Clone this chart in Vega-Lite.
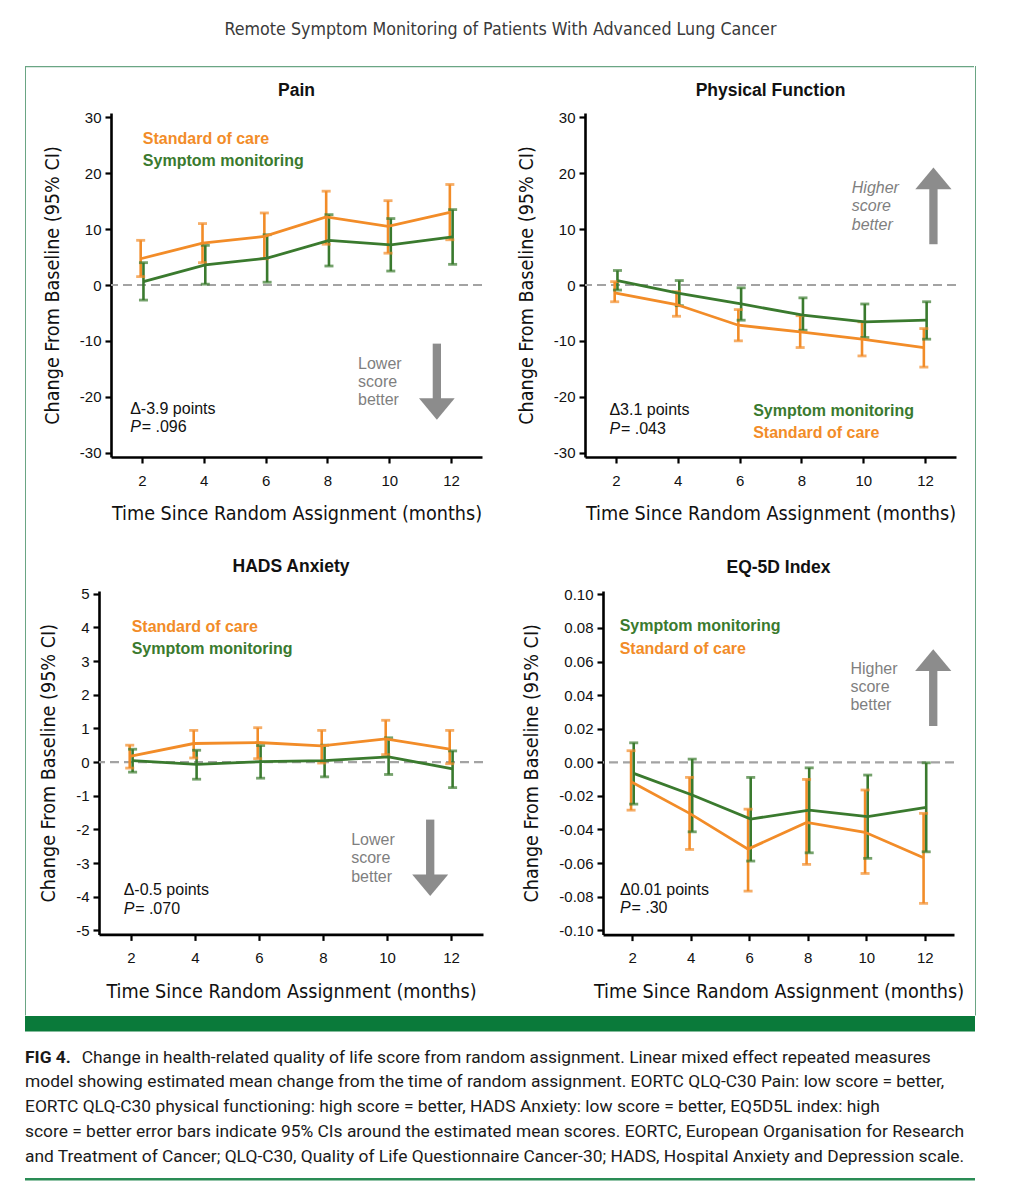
{
  "$schema": "https://vega.github.io/schema/vega-lite/v6.json",
  "background": "white",
  "padding": {"left": 25, "right": 25, "top": 20, "bottom": 10},
  "title": {"text": "Remote Symptom Monitoring of Patients With Advanced Lung Cancer", "font": "Liberation Sans Narrow, DejaVu Sans Condensed, Roboto, sans-serif", "fontSize": 17.7, "fontWeight": "normal", "color": "#3a3a3a", "anchor": "middle", "frame": "bounds", "offset": 27.5},
  "config": {
    "view": {"stroke": null},
    "axis": {"domainColor": "#000", "domainWidth": 2.6, "tickColor": "#000", "tickWidth": 2.2, "tickSize": 6, "tickCount": 20, "labelColor": "#111", "labelFont": "Liberation Sans", "labelFontSize": 15, "labelOverlap": false, "titleFont": "Liberation Sans Narrow, DejaVu Sans Condensed, Roboto, sans-serif", "titleFontWeight": "normal", "titleColor": "#111", "grid": false, "labelPadding": 4},
    "axisX": {"labelPadding": 10, "titlePadding": 16.6, "titleFontSize": 19.6},
    "axisY": {"titlePadding": 17, "titleFontSize": 19.6},
    "title": {"font": "Liberation Sans", "fontSize": 17.5, "fontWeight": "bold", "color": "#111", "offset": 11, "frame": "group", "anchor": "middle"},
    "text": {"font": "Liberation Sans"}
  },
  "datasets": {
    "pain": [
      {"arm": "Standard of care", "t": 1.96, "mean": 4.7, "lo": 1.5, "hi": 8.0},
      {"arm": "Standard of care", "t": 3.96, "mean": 7.5, "lo": 4.0, "hi": 11.0},
      {"arm": "Standard of care", "t": 5.96, "mean": 8.7, "lo": 4.7, "hi": 12.9},
      {"arm": "Standard of care", "t": 7.96, "mean": 12.2, "lo": 7.3, "hi": 16.8},
      {"arm": "Standard of care", "t": 9.96, "mean": 10.5, "lo": 5.7, "hi": 15.1},
      {"arm": "Standard of care", "t": 11.96, "mean": 13.0, "lo": 8.1, "hi": 18.0},
      {"arm": "Symptom monitoring", "t": 2.05, "mean": 0.6, "lo": -2.7, "hi": 4.0},
      {"arm": "Symptom monitoring", "t": 4.05, "mean": 3.6, "lo": 0.15, "hi": 7.1},
      {"arm": "Symptom monitoring", "t": 6.05, "mean": 4.8, "lo": 0.5, "hi": 9.0},
      {"arm": "Symptom monitoring", "t": 8.05, "mean": 8.0, "lo": 3.4, "hi": 12.6},
      {"arm": "Symptom monitoring", "t": 10.05, "mean": 7.2, "lo": 2.5, "hi": 11.9},
      {"arm": "Symptom monitoring", "t": 12.05, "mean": 8.6, "lo": 3.7, "hi": 13.5}
    ],
    "phys": [
      {"arm": "Standard of care", "t": 1.96, "mean": -1.4, "lo": -3.0, "hi": 0.6},
      {"arm": "Standard of care", "t": 3.96, "mean": -3.5, "lo": -5.6, "hi": -1.2},
      {"arm": "Standard of care", "t": 5.96, "mean": -7.2, "lo": -10.0, "hi": -4.4},
      {"arm": "Standard of care", "t": 7.96, "mean": -8.4, "lo": -11.2, "hi": -5.5},
      {"arm": "Standard of care", "t": 9.96, "mean": -9.7, "lo": -12.7, "hi": -6.6},
      {"arm": "Standard of care", "t": 11.96, "mean": -11.2, "lo": -14.7, "hi": -7.8},
      {"arm": "Symptom monitoring", "t": 2.05, "mean": 0.8, "lo": -0.9, "hi": 2.6},
      {"arm": "Symptom monitoring", "t": 4.05, "mean": -1.5, "lo": -3.7, "hi": 0.8},
      {"arm": "Symptom monitoring", "t": 6.05, "mean": -3.4, "lo": -6.3, "hi": -0.5},
      {"arm": "Symptom monitoring", "t": 8.05, "mean": -5.4, "lo": -8.1, "hi": -2.3},
      {"arm": "Symptom monitoring", "t": 10.05, "mean": -6.6, "lo": -9.4, "hi": -3.4},
      {"arm": "Symptom monitoring", "t": 12.05, "mean": -6.3, "lo": -9.7, "hi": -3.0}
    ],
    "hads": [
      {"arm": "Standard of care", "t": 1.96, "mean": 0.17, "lo": -0.18, "hi": 0.5},
      {"arm": "Standard of care", "t": 3.96, "mean": 0.55, "lo": 0.12, "hi": 0.94},
      {"arm": "Standard of care", "t": 5.96, "mean": 0.58, "lo": 0.1, "hi": 1.02},
      {"arm": "Standard of care", "t": 7.96, "mean": 0.48, "lo": -0.03, "hi": 0.94},
      {"arm": "Standard of care", "t": 9.96, "mean": 0.69, "lo": 0.22, "hi": 1.24},
      {"arm": "Standard of care", "t": 11.96, "mean": 0.38, "lo": -0.05, "hi": 0.94},
      {"arm": "Symptom monitoring", "t": 2.05, "mean": 0.04, "lo": -0.3, "hi": 0.38},
      {"arm": "Symptom monitoring", "t": 4.05, "mean": -0.07, "lo": -0.51, "hi": 0.35},
      {"arm": "Symptom monitoring", "t": 6.05, "mean": 0.01, "lo": -0.48, "hi": 0.49},
      {"arm": "Symptom monitoring", "t": 8.05, "mean": 0.04, "lo": -0.44, "hi": 0.5},
      {"arm": "Symptom monitoring", "t": 10.05, "mean": 0.15, "lo": -0.37, "hi": 0.72},
      {"arm": "Symptom monitoring", "t": 12.05, "mean": -0.2, "lo": -0.76, "hi": 0.33}
    ],
    "eq5d": [
      {"arm": "Standard of care", "t": 1.96, "mean": -0.0116, "lo": -0.0285, "hi": 0.0069},
      {"arm": "Standard of care", "t": 3.96, "mean": -0.0304, "lo": -0.0519, "hi": -0.009},
      {"arm": "Standard of care", "t": 5.96, "mean": -0.0517, "lo": -0.0767, "hi": -0.0279},
      {"arm": "Standard of care", "t": 7.96, "mean": -0.0358, "lo": -0.0608, "hi": -0.0102},
      {"arm": "Standard of care", "t": 9.96, "mean": -0.0417, "lo": -0.0662, "hi": -0.0165},
      {"arm": "Standard of care", "t": 11.96, "mean": -0.0568, "lo": -0.084, "hi": -0.0304},
      {"arm": "Symptom monitoring", "t": 2.05, "mean": -0.0066, "lo": -0.0249, "hi": 0.0116},
      {"arm": "Symptom monitoring", "t": 4.05, "mean": -0.0195, "lo": -0.0414, "hi": 0.0019},
      {"arm": "Symptom monitoring", "t": 6.05, "mean": -0.0338, "lo": -0.0588, "hi": -0.009},
      {"arm": "Symptom monitoring", "t": 8.05, "mean": -0.0285, "lo": -0.0539, "hi": -0.0033},
      {"arm": "Symptom monitoring", "t": 10.05, "mean": -0.0324, "lo": -0.0572, "hi": -0.0076},
      {"arm": "Symptom monitoring", "t": 12.05, "mean": -0.0269, "lo": -0.0533, "hi": -0.0003}
    ],
    "caption": [
      {"line": 2, "text": "model showing estimated mean change from the time of random assignment. EORTC QLQ-C30 Pain: low score = better,"},
      {"line": 3, "text": "EORTC QLQ-C30 physical functioning: high score = better, HADS Anxiety: low score = better, EQ5D5L index: high"},
      {"line": 4, "text": "score = better error bars indicate 95% CIs around the estimated mean scores. EORTC, European Organisation for Research"},
      {"line": 5, "text": "and Treatment of Cancer; QLQ-C30, Quality of Life Questionnaire Cancer-30; HADS, Hospital Anxiety and Depression scale."}
    ]
  },
  "vconcat": [
    {
      "hconcat": [
        {"width": 1, "height": 949.5, "data": {"values": []}, "mark": {"type": "text"}, "encoding": {}, "view": {"fill": "#6aa584", "stroke": null}},
        {
          "vconcat": [
            {"width": 948, "height": 1.2, "data": {"values": []}, "mark": {"type": "text"}, "encoding": {}, "view": {"fill": "#6aa584", "stroke": null}},
            {
              "vconcat": [
                {
                  "hconcat": [
                    {"width": 84.8, "height": 1, "data": {"values": []}, "mark": {"type": "text"}, "encoding": {}},
                    {
                      "title": "Pain",
                      "width": 371, "height": 344,
                      "data": {"name": "pain"},
                      "layer": [
                        {"data": {"values": [{}]}, "mark": {"type": "rule", "color": "#a3a3a3", "strokeWidth": 2.2, "strokeDash": [9, 5]}, "encoding": {"y": {"datum": 0, "type": "quantitative"}}},
                        {"mark": {"type": "rule", "strokeWidth": 2.6},
                         "encoding": {
                           "x": {"field": "t", "type": "quantitative", "scale": {"domain": [1, 13], "nice": false, "zero": false}, "axis": {"values": [2, 4, 6, 8, 10, 12], "format": "d", "title": "Time Since Random Assignment (months)"}},
                           "y": {"field": "lo", "type": "quantitative", "scale": {"domain": [-30.8, 30.8], "nice": false, "zero": false}, "axis": {"values": [-30, -20, -10, 0, 10, 20, 30], "tickCount": 20, "format": "d", "labelExpr": "replace(datum.label, '\u2212', '-')", "title": "Change From Baseline (95% CI)"}},
                           "y2": {"field": "hi"},
                           "color": {"field": "arm", "type": "nominal", "scale": {"domain": ["Standard of care", "Symptom monitoring"], "range": ["#F28C28", "#3A7A2E"]}, "legend": null}}},
                        {"mark": {"type": "tick", "orient": "horizontal", "size": 9, "thickness": 2.8}, "encoding": {"x": {"field": "t", "type": "quantitative"}, "y": {"field": "lo", "type": "quantitative"}, "color": {"field": "arm", "type": "nominal"}}},
                        {"mark": {"type": "tick", "orient": "horizontal", "size": 9, "thickness": 2.8}, "encoding": {"x": {"field": "t", "type": "quantitative"}, "y": {"field": "hi", "type": "quantitative"}, "color": {"field": "arm", "type": "nominal"}}},
                        {"mark": {"type": "line", "strokeWidth": 2.8}, "encoding": {"x": {"field": "t", "type": "quantitative"}, "y": {"field": "mean", "type": "quantitative"}, "color": {"field": "arm", "type": "nominal"}}},
                        {"data": {"values": [{}]}, "mark": {"type": "text", "text": "Standard of care", "align": "left", "baseline": "middle", "fontSize": 16, "fontWeight": "bold", "color": "#F28C28"}, "encoding": {"x": {"datum": 2.03, "type": "quantitative"}, "y": {"datum": 26.2, "type": "quantitative"}}},
                        {"data": {"values": [{}]}, "mark": {"type": "text", "text": "Symptom monitoring", "align": "left", "baseline": "middle", "fontSize": 16, "fontWeight": "bold", "color": "#3A7A2E"}, "encoding": {"x": {"datum": 2.03, "type": "quantitative"}, "y": {"datum": 22.2, "type": "quantitative"}}},
                        {"data": {"values": [{}]}, "mark": {"type": "text", "text": "\u0394-3.9 points", "align": "left", "baseline": "alphabetic", "fontSize": 16, "color": "#111"}, "encoding": {"x": {"datum": 1.62, "type": "quantitative"}, "y": {"datum": -23.07, "type": "quantitative"}}},
                        {"data": {"values": [{}]}, "mark": {"type": "text", "text": "P", "align": "left", "baseline": "alphabetic", "fontSize": 16, "fontStyle": "italic", "color": "#111"}, "encoding": {"x": {"datum": 1.62, "type": "quantitative"}, "y": {"datum": -26.37, "type": "quantitative"}}},
                        {"data": {"values": [{}]}, "mark": {"type": "text", "text": "= .096", "align": "left", "baseline": "alphabetic", "fontSize": 16, "dx": 11.5, "color": "#111"}, "encoding": {"x": {"datum": 1.62, "type": "quantitative"}, "y": {"datum": -26.37, "type": "quantitative"}}},
                        {"data": {"values": [{}]}, "mark": {"type": "text", "text": ["Lower", "score", "better"], "lineHeight": 18.3, "align": "left", "baseline": "alphabetic", "fontSize": 16, "color": "#7f7f7f"}, "encoding": {"x": {"datum": 8.99, "type": "quantitative"}, "y": {"datum": -15.0, "type": "quantitative"}}},
                        {"data": {"values": [{}]}, "mark": {"type": "rule", "color": "#8c8c8c", "strokeWidth": 8.3, "strokeCap": "butt"}, "encoding": {"x": {"datum": 11.54, "type": "quantitative"}, "y": {"datum": -10.5, "type": "quantitative"}, "y2": {"datum": -20.6}}},
                        {"data": {"values": [{}]}, "mark": {"type": "point", "shape": "M-1,-0.6L1,-0.6L0,0.6Z", "size": 1274, "filled": true, "opacity": 1, "color": "#8c8c8c", "strokeWidth": 0}, "encoding": {"x": {"datum": 11.54, "type": "quantitative"}, "y": {"datum": -22.2, "type": "quantitative"}}}
                      ]
                    },
                    {"width": 102.3, "height": 1, "data": {"values": []}, "mark": {"type": "text"}, "encoding": {}},
                    {
                      "title": "Physical Function",
                      "width": 371, "height": 344,
                      "data": {"name": "phys"},
                      "layer": [
                        {"data": {"values": [{}]}, "mark": {"type": "rule", "color": "#a3a3a3", "strokeWidth": 2.2, "strokeDash": [9, 5]}, "encoding": {"y": {"datum": 0, "type": "quantitative"}}},
                        {"mark": {"type": "rule", "strokeWidth": 2.6},
                         "encoding": {
                           "x": {"field": "t", "type": "quantitative", "scale": {"domain": [1, 13], "nice": false, "zero": false}, "axis": {"values": [2, 4, 6, 8, 10, 12], "format": "d", "title": "Time Since Random Assignment (months)"}},
                           "y": {"field": "lo", "type": "quantitative", "scale": {"domain": [-30.8, 30.8], "nice": false, "zero": false}, "axis": {"values": [-30, -20, -10, 0, 10, 20, 30], "tickCount": 20, "format": "d", "labelExpr": "replace(datum.label, '\u2212', '-')", "title": "Change From Baseline (95% CI)"}},
                           "y2": {"field": "hi"},
                           "color": {"field": "arm", "type": "nominal", "scale": {"domain": ["Standard of care", "Symptom monitoring"], "range": ["#F28C28", "#3A7A2E"]}, "legend": null}}},
                        {"mark": {"type": "tick", "orient": "horizontal", "size": 9, "thickness": 2.8}, "encoding": {"x": {"field": "t", "type": "quantitative"}, "y": {"field": "lo", "type": "quantitative"}, "color": {"field": "arm", "type": "nominal"}}},
                        {"mark": {"type": "tick", "orient": "horizontal", "size": 9, "thickness": 2.8}, "encoding": {"x": {"field": "t", "type": "quantitative"}, "y": {"field": "hi", "type": "quantitative"}, "color": {"field": "arm", "type": "nominal"}}},
                        {"mark": {"type": "line", "strokeWidth": 2.8}, "encoding": {"x": {"field": "t", "type": "quantitative"}, "y": {"field": "mean", "type": "quantitative"}, "color": {"field": "arm", "type": "nominal"}}},
                        {"data": {"values": [{}]}, "mark": {"type": "text", "text": "Symptom monitoring", "align": "left", "baseline": "middle", "fontSize": 16, "fontWeight": "bold", "color": "#3A7A2E"}, "encoding": {"x": {"datum": 6.44, "type": "quantitative"}, "y": {"datum": -22.5, "type": "quantitative"}}},
                        {"data": {"values": [{}]}, "mark": {"type": "text", "text": "Standard of care", "align": "left", "baseline": "middle", "fontSize": 16, "fontWeight": "bold", "color": "#F28C28"}, "encoding": {"x": {"datum": 6.44, "type": "quantitative"}, "y": {"datum": -26.5, "type": "quantitative"}}},
                        {"data": {"values": [{}]}, "mark": {"type": "text", "text": "\u03943.1 points", "align": "left", "baseline": "alphabetic", "fontSize": 16, "color": "#111"}, "encoding": {"x": {"datum": 1.79, "type": "quantitative"}, "y": {"datum": -23.3, "type": "quantitative"}}},
                        {"data": {"values": [{}]}, "mark": {"type": "text", "text": "P", "align": "left", "baseline": "alphabetic", "fontSize": 16, "fontStyle": "italic", "color": "#111"}, "encoding": {"x": {"datum": 1.79, "type": "quantitative"}, "y": {"datum": -26.6, "type": "quantitative"}}},
                        {"data": {"values": [{}]}, "mark": {"type": "text", "text": "= .043", "align": "left", "baseline": "alphabetic", "fontSize": 16, "dx": 11.5, "color": "#111"}, "encoding": {"x": {"datum": 1.79, "type": "quantitative"}, "y": {"datum": -26.6, "type": "quantitative"}}},
                        {"data": {"values": [{}]}, "mark": {"type": "text", "text": ["Higher", "score", "better"], "lineHeight": 18.5, "align": "left", "baseline": "alphabetic", "fontSize": 16, "fontStyle": "italic", "color": "#7f7f7f"}, "encoding": {"x": {"datum": 9.63, "type": "quantitative"}, "y": {"datum": 16.5, "type": "quantitative"}}},
                        {"data": {"values": [{}]}, "mark": {"type": "rule", "color": "#8c8c8c", "strokeWidth": 8.3, "strokeCap": "butt"}, "encoding": {"x": {"datum": 12.27, "type": "quantitative"}, "y": {"datum": 7.3, "type": "quantitative"}, "y2": {"datum": 17.6}}},
                        {"data": {"values": [{}]}, "mark": {"type": "point", "shape": "M-1,0.6L1,0.6L0,-0.6Z", "size": 1310, "filled": true, "opacity": 1, "color": "#8c8c8c", "strokeWidth": 0}, "encoding": {"x": {"datum": 12.27, "type": "quantitative"}, "y": {"datum": 19.1, "type": "quantitative"}}}
                      ]
                    },
                    {"width": 18.9, "height": 1, "data": {"values": []}, "mark": {"type": "text"}, "encoding": {}}
                  ],
                  "spacing": 0,
                  "bounds": "flush"
                },
                {
                  "hconcat": [
                    {"width": 73, "height": 1, "data": {"values": []}, "mark": {"type": "text"}, "encoding": {}},
                    {
                      "title": "HADS Anxiety",
                      "width": 384, "height": 343.4,
                      "data": {"name": "hads"},
                      "layer": [
                        {"data": {"values": [{}]}, "mark": {"type": "rule", "color": "#a3a3a3", "strokeWidth": 2.2, "strokeDash": [9, 5]}, "encoding": {"y": {"datum": 0, "type": "quantitative"}}},
                        {"mark": {"type": "rule", "strokeWidth": 2.6},
                         "encoding": {
                           "x": {"field": "t", "type": "quantitative", "scale": {"domain": [1, 13], "nice": false, "zero": false}, "axis": {"values": [2, 4, 6, 8, 10, 12], "format": "d", "title": "Time Since Random Assignment (months)"}},
                           "y": {"field": "lo", "type": "quantitative", "scale": {"domain": [-5.12, 5.08], "nice": false, "zero": false}, "axis": {"values": [-5, -4, -3, -2, -1, 0, 1, 2, 3, 4, 5], "tickCount": 20, "format": "d", "labelExpr": "replace(datum.label, '\u2212', '-')", "title": "Change From Baseline (95% CI)"}},
                           "y2": {"field": "hi"},
                           "color": {"field": "arm", "type": "nominal", "scale": {"domain": ["Standard of care", "Symptom monitoring"], "range": ["#F28C28", "#3A7A2E"]}, "legend": null}}},
                        {"mark": {"type": "tick", "orient": "horizontal", "size": 9, "thickness": 2.8}, "encoding": {"x": {"field": "t", "type": "quantitative"}, "y": {"field": "lo", "type": "quantitative"}, "color": {"field": "arm", "type": "nominal"}}},
                        {"mark": {"type": "tick", "orient": "horizontal", "size": 9, "thickness": 2.8}, "encoding": {"x": {"field": "t", "type": "quantitative"}, "y": {"field": "hi", "type": "quantitative"}, "color": {"field": "arm", "type": "nominal"}}},
                        {"mark": {"type": "line", "strokeWidth": 2.8}, "encoding": {"x": {"field": "t", "type": "quantitative"}, "y": {"field": "mean", "type": "quantitative"}, "color": {"field": "arm", "type": "nominal"}}},
                        {"data": {"values": [{}]}, "mark": {"type": "text", "text": "Standard of care", "align": "left", "baseline": "middle", "fontSize": 16, "fontWeight": "bold", "color": "#F28C28"}, "encoding": {"x": {"datum": 2.02, "type": "quantitative"}, "y": {"datum": 4.01, "type": "quantitative"}}},
                        {"data": {"values": [{}]}, "mark": {"type": "text", "text": "Symptom monitoring", "align": "left", "baseline": "middle", "fontSize": 16, "fontWeight": "bold", "color": "#3A7A2E"}, "encoding": {"x": {"datum": 2.02, "type": "quantitative"}, "y": {"datum": 3.36, "type": "quantitative"}}},
                        {"data": {"values": [{}]}, "mark": {"type": "text", "text": "\u0394-0.5 points", "align": "left", "baseline": "alphabetic", "fontSize": 16, "color": "#111"}, "encoding": {"x": {"datum": 1.77, "type": "quantitative"}, "y": {"datum": -3.96, "type": "quantitative"}}},
                        {"data": {"values": [{}]}, "mark": {"type": "text", "text": "P", "align": "left", "baseline": "alphabetic", "fontSize": 16, "fontStyle": "italic", "color": "#111"}, "encoding": {"x": {"datum": 1.77, "type": "quantitative"}, "y": {"datum": -4.5, "type": "quantitative"}}},
                        {"data": {"values": [{}]}, "mark": {"type": "text", "text": "= .070", "align": "left", "baseline": "alphabetic", "fontSize": 16, "dx": 11.5, "color": "#111"}, "encoding": {"x": {"datum": 1.77, "type": "quantitative"}, "y": {"datum": -4.5, "type": "quantitative"}}},
                        {"data": {"values": [{}]}, "mark": {"type": "text", "text": ["Lower", "score", "better"], "lineHeight": 18.3, "align": "left", "baseline": "alphabetic", "fontSize": 16, "color": "#7f7f7f"}, "encoding": {"x": {"datum": 8.88, "type": "quantitative"}, "y": {"datum": -2.47, "type": "quantitative"}}},
                        {"data": {"values": [{}]}, "mark": {"type": "rule", "color": "#8c8c8c", "strokeWidth": 8.3, "strokeCap": "butt"}, "encoding": {"x": {"datum": 11.35, "type": "quantitative"}, "y": {"datum": -1.71, "type": "quantitative"}, "y2": {"datum": -3.4}}},
                        {"data": {"values": [{}]}, "mark": {"type": "point", "shape": "M-1,-0.6L1,-0.6L0,0.6Z", "size": 1296, "filled": true, "opacity": 1, "color": "#8c8c8c", "strokeWidth": 0}, "encoding": {"x": {"datum": 11.35, "type": "quantitative"}, "y": {"datum": -3.66, "type": "quantitative"}}}
                      ]
                    },
                    {"width": 119.4, "height": 1, "data": {"values": []}, "mark": {"type": "text"}, "encoding": {}},
                    {
                      "title": "EQ-5D Index",
                      "width": 351, "height": 343.6,
                      "data": {"name": "eq5d"},
                      "layer": [
                        {"data": {"values": [{}]}, "mark": {"type": "rule", "color": "#a3a3a3", "strokeWidth": 2.2, "strokeDash": [9, 5]}, "encoding": {"y": {"datum": 0, "type": "quantitative"}}},
                        {"mark": {"type": "rule", "strokeWidth": 2.6},
                         "encoding": {
                           "x": {"field": "t", "type": "quantitative", "scale": {"domain": [1, 13], "nice": false, "zero": false}, "axis": {"values": [2, 4, 6, 8, 10, 12], "format": "d", "title": "Time Since Random Assignment (months)"}},
                           "y": {"field": "lo", "type": "quantitative", "scale": {"domain": [-0.1026, 0.102], "nice": false, "zero": false}, "axis": {"values": [-0.1, -0.08, -0.06, -0.04, -0.02, 0, 0.02, 0.04, 0.06, 0.08, 0.1], "tickCount": 20, "format": ".2f", "labelExpr": "replace(datum.label, '\u2212', '-')", "title": "Change From Baseline (95% CI)"}},
                           "y2": {"field": "hi"},
                           "color": {"field": "arm", "type": "nominal", "scale": {"domain": ["Standard of care", "Symptom monitoring"], "range": ["#F28C28", "#3A7A2E"]}, "legend": null}}},
                        {"mark": {"type": "tick", "orient": "horizontal", "size": 9, "thickness": 2.8}, "encoding": {"x": {"field": "t", "type": "quantitative"}, "y": {"field": "lo", "type": "quantitative"}, "color": {"field": "arm", "type": "nominal"}}},
                        {"mark": {"type": "tick", "orient": "horizontal", "size": 9, "thickness": 2.8}, "encoding": {"x": {"field": "t", "type": "quantitative"}, "y": {"field": "hi", "type": "quantitative"}, "color": {"field": "arm", "type": "nominal"}}},
                        {"mark": {"type": "line", "strokeWidth": 2.8}, "encoding": {"x": {"field": "t", "type": "quantitative"}, "y": {"field": "mean", "type": "quantitative"}, "color": {"field": "arm", "type": "nominal"}}},
                        {"data": {"values": [{}]}, "mark": {"type": "text", "text": "Symptom monitoring", "align": "left", "baseline": "middle", "fontSize": 16, "fontWeight": "bold", "color": "#3A7A2E"}, "encoding": {"x": {"datum": 1.57, "type": "quantitative"}, "y": {"datum": 0.081, "type": "quantitative"}}},
                        {"data": {"values": [{}]}, "mark": {"type": "text", "text": "Standard of care", "align": "left", "baseline": "middle", "fontSize": 16, "fontWeight": "bold", "color": "#F28C28"}, "encoding": {"x": {"datum": 1.57, "type": "quantitative"}, "y": {"datum": 0.0677, "type": "quantitative"}}},
                        {"data": {"values": [{}]}, "mark": {"type": "text", "text": "\u03940.01 points", "align": "left", "baseline": "alphabetic", "fontSize": 16, "color": "#111"}, "encoding": {"x": {"datum": 1.58, "type": "quantitative"}, "y": {"datum": -0.0792, "type": "quantitative"}}},
                        {"data": {"values": [{}]}, "mark": {"type": "text", "text": "P", "align": "left", "baseline": "alphabetic", "fontSize": 16, "fontStyle": "italic", "color": "#111"}, "encoding": {"x": {"datum": 1.58, "type": "quantitative"}, "y": {"datum": -0.09, "type": "quantitative"}}},
                        {"data": {"values": [{}]}, "mark": {"type": "text", "text": "= .30", "align": "left", "baseline": "alphabetic", "fontSize": 16, "dx": 11.5, "color": "#111"}, "encoding": {"x": {"datum": 1.58, "type": "quantitative"}, "y": {"datum": -0.09, "type": "quantitative"}}},
                        {"data": {"values": [{}]}, "mark": {"type": "text", "text": ["Higher", "score", "better"], "lineHeight": 18.3, "align": "left", "baseline": "alphabetic", "fontSize": 16, "color": "#7f7f7f"}, "encoding": {"x": {"datum": 9.46, "type": "quantitative"}, "y": {"datum": 0.0528, "type": "quantitative"}}},
                        {"data": {"values": [{}]}, "mark": {"type": "rule", "color": "#8c8c8c", "strokeWidth": 8.3, "strokeCap": "butt"}, "encoding": {"x": {"datum": 12.29, "type": "quantitative"}, "y": {"datum": 0.0216, "type": "quantitative"}, "y2": {"datum": 0.0555}}},
                        {"data": {"values": [{}]}, "mark": {"type": "point", "shape": "M-1,0.6L1,0.6L0,-0.6Z", "size": 1310, "filled": true, "opacity": 1, "color": "#8c8c8c", "strokeWidth": 0}, "encoding": {"x": {"datum": 12.29, "type": "quantitative"}, "y": {"datum": 0.0608, "type": "quantitative"}}}
                      ]
                    },
                    {"width": 20.6, "height": 1, "data": {"values": []}, "mark": {"type": "text"}, "encoding": {}}
                  ],
                  "spacing": 0,
                  "bounds": "flush"
                }
              ],
              "spacing": 34
            }
          ],
          "spacing": 13
        },
        {"width": 1, "height": 949.5, "data": {"values": []}, "mark": {"type": "text"}, "encoding": {}, "view": {"fill": "#6aa584", "stroke": null}}
      ],
      "spacing": 0
    },
    {"width": 950, "height": 15.5, "data": {"values": []}, "mark": {"type": "text"}, "encoding": {}, "view": {"fill": "#0a7a3a", "stroke": null}},
    {
      "width": 950, "height": 146,
      "layer": [
        {"data": {"values": [{"line": 1, "text": "FIG 4."}]}, "mark": {"type": "text", "align": "left", "baseline": "middle", "font": "Roboto", "fontSize": 17.4, "fontWeight": "bold", "color": "#1a1a1a"},
         "encoding": {"x": {"value": 0}, "y": {"field": "line", "type": "quantitative", "scale": {"domain": [-0.036, 5.851], "reverse": true, "nice": false, "zero": false}, "axis": null}, "text": {"field": "text"}}},
        {"data": {"values": [{"line": 1, "text": "Change in health-related quality of life score from random assignment. Linear mixed effect repeated measures"}]}, "mark": {"type": "text", "align": "left", "baseline": "middle", "font": "Roboto", "fontSize": 17.4, "dx": 56.7, "color": "#1a1a1a"},
         "encoding": {"x": {"value": 0}, "y": {"field": "line", "type": "quantitative"}, "text": {"field": "text"}}},
        {"data": {"name": "caption"}, "mark": {"type": "text", "align": "left", "baseline": "middle", "font": "Roboto", "fontSize": 17.4, "color": "#1a1a1a"},
         "encoding": {"x": {"value": 0}, "y": {"field": "line", "type": "quantitative"}, "text": {"field": "text"}}}
      ]
    },
    {"width": 950, "height": 2.5, "data": {"values": []}, "mark": {"type": "text"}, "encoding": {}, "view": {"fill": "#2a8c55", "stroke": null}}
  ],
  "spacing": 0
}
